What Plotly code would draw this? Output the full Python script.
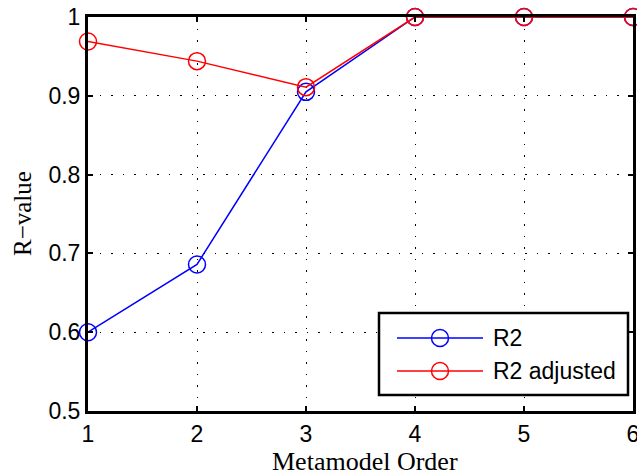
import plotly.graph_objects as go

orders = [1, 2, 3, 4, 5, 6]
r2 = [0.600, 0.686, 0.905, 1.000, 1.000, 1.000]
r2_adj = [0.969, 0.944, 0.911, 1.000, 1.000, 1.000]
series_names = ["R2", "R2 adjusted"]
series_colors = ["#0000ff", "#ff0000"]
x_ticks = [1, 2, 3, 4, 5, 6]
y_ticks = [0.5, 0.6, 0.7, 0.8, 0.9, 1.0]
y_ticktext = ["0.5", "0.6", "0.7", "0.8", "0.9", "1"]
x_title = "Metamodel Order"
y_title = "R\u2212value"

W, H = 637, 471
ml, mr, mt, mb = 88, 4, 17, 60
pw, ph = W - ml - mr, H - mt - mb

fig = go.Figure()
for vals, name, col in zip([r2, r2_adj], series_names, series_colors):
    fig.add_trace(go.Scatter(
        x=orders, y=vals, name=name, mode="lines+markers",
        line=dict(color=col, width=1.5),
        marker=dict(symbol="circle-open", size=17, color=col, line=dict(width=1.5)),
        cliponaxis=False, showlegend=False,
    ))

axis_common = dict(
    showline=True, linecolor="black", linewidth=3, mirror="ticks",
    ticks="inside", ticklen=5, tickwidth=1.5, tickcolor="black",
    showgrid=True, gridcolor="black", gridwidth=1, griddash="1.5px,10px",
    zeroline=False, ticklabeloverflow="allow",
    tickfont=dict(family="Liberation Sans, Arial", size=23, color="black"),
)
fig.update_xaxes(range=[1, 6], tickvals=x_ticks, ticktext=[str(v) for v in x_ticks], **axis_common)
fig.update_yaxes(range=[0.5, 1.0], tickvals=y_ticks, ticktext=y_ticktext, **axis_common)

def px2x(px):
    return (px - ml) / pw

def px2y(py):
    return (H - mb - py) / ph

shapes = []
annotations = []
# legend box
shapes.append(dict(type="rect", xref="paper", yref="paper",
                   x0=px2x(379), x1=px2x(628), y0=px2y(395), y1=px2y(313),
                   line=dict(color="black", width=2.5), fillcolor="white", layer="above"))
for i, (name, col) in enumerate(zip(series_names, series_colors)):
    ry = px2y(338 + 33 * i)
    shapes.append(dict(type="line", xref="paper", yref="paper",
                       x0=px2x(397), x1=px2x(483), y0=ry, y1=ry,
                       line=dict(color=col, width=1.5), layer="above"))
    shapes.append(dict(type="circle", xref="paper", yref="paper",
                       xsizemode="pixel", ysizemode="pixel",
                       xanchor=px2x(440), yanchor=ry, x0=-8.5, x1=8.5, y0=-8.5, y1=8.5,
                       line=dict(color=col, width=1.5), fillcolor="rgba(0,0,0,0)", layer="above"))
    annotations.append(dict(xref="paper", yref="paper", x=px2x(491), y=ry,
                            xanchor="left", yanchor="middle", showarrow=False, text=name,
                            font=dict(family="Liberation Sans, Arial", size=23, color="black")))

annotations.append(dict(xref="paper", yref="paper", x=px2x(365), y=px2y(461),
                        xanchor="center", yanchor="middle", showarrow=False, text=x_title,
                        font=dict(family="Liberation Serif, Times New Roman", size=26, color="black")))
annotations.append(dict(xref="paper", yref="paper", x=px2x(22), y=px2y(214),
                        xanchor="center", yanchor="middle", showarrow=False, text=y_title,
                        textangle=-90,
                        font=dict(family="Liberation Serif, Times New Roman", size=25, color="black")))

fig.update_layout(
    width=W, height=H,
    margin=dict(l=ml, r=mr, t=mt, b=mb, autoexpand=False),
    paper_bgcolor="white", plot_bgcolor="white",
    shapes=shapes, annotations=annotations,
)

fig.write_html("out.html")
